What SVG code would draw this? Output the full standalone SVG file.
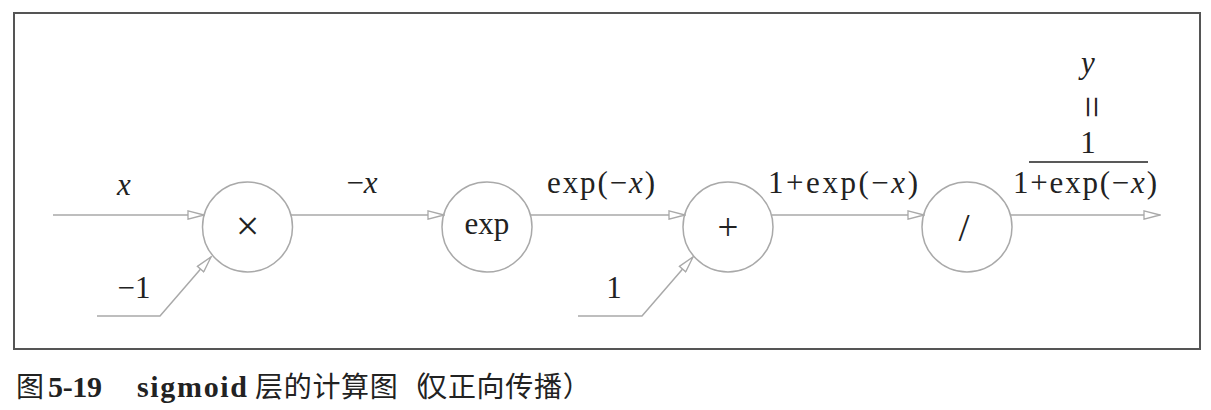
<svg xmlns="http://www.w3.org/2000/svg" width="1211" height="410" viewBox="0 0 1211 410">
<style>
.node circle{fill:none;stroke:#a9a9a9;stroke-width:1.5}
.conn line,.conn polyline{fill:none;stroke:#a9a9a9;stroke-width:1.5}
.t{font-family:"Liberation Serif","DejaVu Serif",serif;font-size:31px;fill:#222;text-anchor:middle}
.i{font-style:italic}
.cap{font-family:"Noto Sans CJK SC","Noto Sans",sans-serif;font-size:28px;fill:#222}
.capb{font-family:"Liberation Serif","DejaVu Serif",serif;font-weight:bold;font-size:30px;fill:#222}
</style>
<defs>
<marker id="ah" viewBox="0 0 18 10" refX="17" refY="5" markerWidth="18" markerHeight="10" markerUnits="userSpaceOnUse" orient="auto">
<path d="M1,0.8 L17,5 L1,9.2 Z" fill="#fff" stroke="#a9a9a9" stroke-width="1.3"/>
</marker>
</defs>
<rect x="14" y="13" width="1186" height="336" fill="#fff" stroke="#555" stroke-width="2"/>
<g class="conn">
<line x1="53" y1="215" x2="204" y2="215" marker-end="url(#ah)"/>
<polyline points="97,316 160,316 211,257" marker-end="url(#ah)"/>
<line x1="291" y1="215" x2="444" y2="215" marker-end="url(#ah)"/>
<line x1="531" y1="215" x2="685" y2="215" marker-end="url(#ah)"/>
<polyline points="578,316 642,316 693,257" marker-end="url(#ah)"/>
<line x1="772" y1="215" x2="924" y2="215" marker-end="url(#ah)"/>
<line x1="1011" y1="215" x2="1160" y2="215" marker-end="url(#ah)"/>
</g>
<g id="n-mul" class="node"><circle cx="247.5" cy="227" r="45"/><text class="t" x="247.5" y="240" style="font-size:42px">×</text></g>
<g id="n-exp" class="node"><circle cx="487" cy="227" r="45"/><text class="t" x="487" y="234">exp</text></g>
<g id="n-add" class="node"><circle cx="728" cy="227" r="45"/><text class="t" x="728" y="240" style="font-size:37px">+</text></g>
<g id="n-div" class="node"><circle cx="967" cy="227" r="45"/><text class="t" x="964" y="241" style="font-size:40px">/</text></g>
<g id="labels">
<text class="t i" x="124" y="195">x</text>
<text class="t" x="362" y="193">−<tspan class="i">x</tspan></text>
<text class="t" x="134" y="298">−1</text>
<text class="t" x="601" y="193" textLength="108">exp(−<tspan class="i">x</tspan>)</text>
<text class="t" x="614" y="298">1</text>
<text class="t" x="843" y="193" textLength="150">1+exp(−<tspan class="i">x</tspan>)</text>
<text class="t i" x="1088" y="73">y</text>
<text class="t" x="0" y="0" transform="translate(1088,107) rotate(90) translate(0,10)" style="font-size:40px">=</text>
<text class="t" x="1088" y="153">1</text>
<line x1="1029" y1="162" x2="1148" y2="162" stroke="#222" stroke-width="1.3"/>
<text class="t" x="1085" y="193" textLength="144">1+exp(−<tspan class="i">x</tspan>)</text>
</g>
<g id="caption">
<text class="cap" x="16" y="397">图</text>
<text class="capb" x="48" y="397" textLength="54">5-19</text>
<text class="capb" x="137" y="397" textLength="110">sigmoid</text>
<text class="cap" x="255" y="397" letter-spacing="0.7">层的计算图（<tspan dx="-8">仅正向传播）</tspan></text>
</g>
</svg>
